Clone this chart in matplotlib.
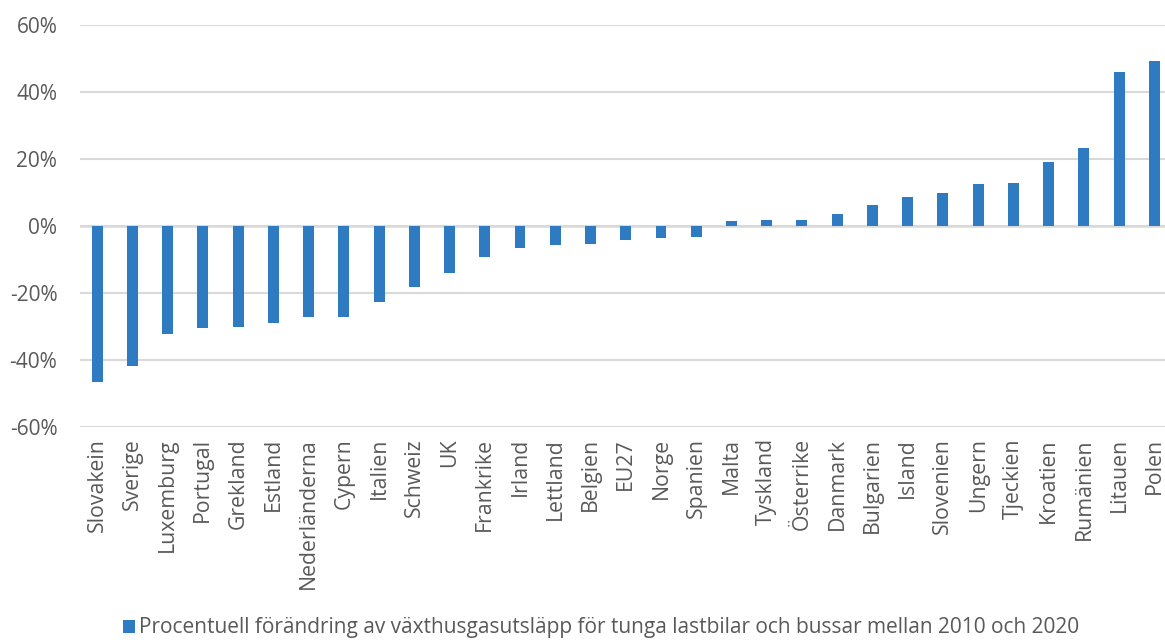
import matplotlib
matplotlib.use("Agg")
import matplotlib.pyplot as plt
from matplotlib.ticker import FuncFormatter
from matplotlib.patches import Patch

countries = ["Slovakein", "Sverige", "Luxemburg", "Portugal", "Grekland", "Estland",
             "Nederländerna", "Cypern", "Italien", "Schweiz", "UK", "Frankrike",
             "Irland", "Lettland", "Belgien", "EU27", "Norge", "Spanien", "Malta",
             "Tyskland", "Österrike", "Danmark", "Bulgarien", "Island", "Slovenien",
             "Ungern", "Tjeckien", "Kroatien", "Rumänien", "Litauen", "Polen"]
change_pct = [-46.6, -41.9, -32.2, -30.3, -30.0, -28.9, -27.1, -27.1, -22.8, -18.1,
              -13.9, -9.2, -6.5, -5.6, -5.3, -4.1, -3.5, -3.3, 1.6, 1.9, 1.9, 3.7,
              6.4, 8.6, 10.0, 12.4, 12.7, 19.0, 23.2, 46.0, 49.3]
yticks = [-60, -40, -20, 0, 20, 40, 60]
legend_label = "Procentuell förändring av växthusgasutsläpp för tunga lastbilar och bussar mellan 2010 och 2020"

bar_color = "#2F7BC2"
text_color = "#595959"
grid_color = "#D9D9D9"

plt.rcParams["font.family"] = ["Open Sans", "DejaVu Sans"]

fig = plt.figure(figsize=(11.65, 6.4), dpi=100)
ax = fig.add_axes([79.5 / 1165, 1 - 427 / 640, (1172 - 79.5) / 1165, (427 - 25) / 640])

x = range(len(countries))
ax.bar(x, change_pct, width=0.31, color=bar_color, zorder=3)

ax.set_xlim(-0.5, len(countries) - 0.5)
ax.set_ylim(-60, 60)
ax.set_yticks(yticks)
ax.yaxis.set_major_formatter(FuncFormatter(lambda v, p: f"{v:.0f}%"))
ax.grid(axis="y", color=grid_color, linewidth=1.5, zorder=0)
ax.axhline(0, color=grid_color, linewidth=1.8, zorder=1)

for s in ax.spines.values():
    s.set_visible(False)

ax.set_xticks(list(x))
ax.set_xticklabels(countries, rotation=90, fontsize=15.3, color=text_color)
ax.tick_params(axis="x", length=0, pad=8)
ax.tick_params(axis="y", length=0, labelsize=15, labelcolor=text_color, pad=16)

fig.legend(handles=[Patch(facecolor=bar_color, label=legend_label)],
           loc="center", bbox_to_anchor=(601 / 1165, 1 - 628 / 640),
           frameon=False, fontsize=15, labelcolor=text_color,
           handlelength=0.6, handleheight=0.6, handletextpad=0.2)

fig.savefig("out.png", dpi=100)
